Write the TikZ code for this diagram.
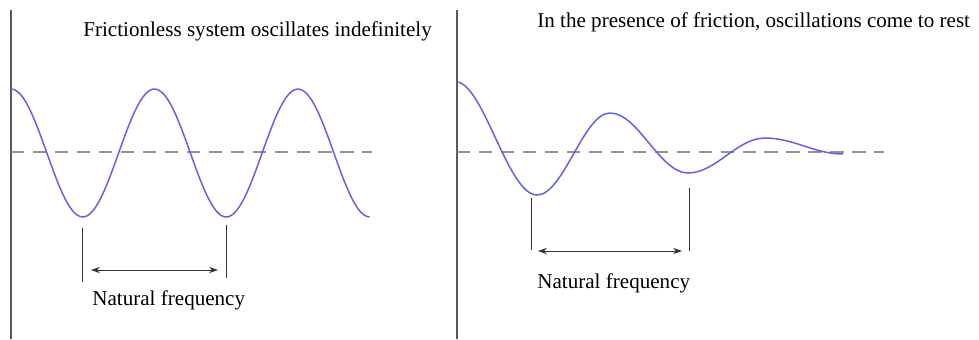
\documentclass[tikz,border=0pt]{standalone}
\usepackage{fontspec}
\setmainfont{Liberation Serif}
\usepackage{xcolor}
\usetikzlibrary{arrows.meta}
\definecolor{wave}{RGB}{98,98,228}
\definecolor{axisgray}{RGB}{90,90,90}

\begin{document}
\begin{tikzpicture}[x=0.02cm, y=-0.02cm,
  axisline/.style={axisgray, line width=0.9pt},
  restline/.style={gray!85, line width=0.6pt, dash pattern=on 7.5pt off 5pt},
  wavecurve/.style={wave, line width=0.85pt},
  bound/.style={black!80, line width=0.5pt},
  span/.style={{Stealth[length=5pt,width=3.5pt,inset=1.5pt]}-{Stealth[length=5pt,width=3.5pt,inset=1.5pt]}, black!80, line width=0.55pt},
  txt/.style={font=\fontsize{12}{14}\selectfont, inner sep=0pt, anchor=base west}]
\useasboundingbox (0,0) rectangle (979,339);

% Titles and labels
\node[txt] (lefttitle) at (83,36) {Frictionless system oscillates indefinitely};
\node[txt] (righttitle) at (537,27) {In the presence of friction, oscillations come to rest};
\node[txt] (leftcap) at (92,305) {Natural frequency};
\node[txt] (rightcap) at (537,288) {Natural frequency};

% Axes and rest positions
\draw[axisline] (11,10) -- (11,339);
\draw[axisline] (457,10) -- (457,339);
\draw[restline] (11,152) -- (372,152);
\draw[restline] (457,152) -- (884,152);

% Frictionless oscillation
\draw[wavecurve] plot[domain=0:2.5, samples=120] ({11+143.5*\x},{153-64*cos(360*\x)});

% Damped oscillation
\draw[wavecurve] (457,82) .. controls (484,85) and (508,195) .. (537,195)
  .. controls (563.5,195) and (583.5,113) .. (610,113)
  .. controls (638.3,113) and (659.7,173) .. (688,173)
  .. controls (716,173) and (737,138) .. (765,138)
  .. controls (793.3,138) and (814.7,154) .. (843,154);

% Period markers
\coordinate (l1top) at (82,228);  \coordinate (l1bot) at (82,282);
\coordinate (l2top) at (226,225); \coordinate (l2bot) at (226,278);
\coordinate (r1top) at (531,198); \coordinate (r1bot) at (531,250);
\coordinate (r2top) at (689,188); \coordinate (r2bot) at (689,251);
\coordinate (la) at (91,270);  \coordinate (lb) at (218,270);
\coordinate (ra) at (538,251); \coordinate (rb) at (682,251);

\draw[bound] (l1top) -- (l1bot);
\draw[bound] (l2top) -- (l2bot);
\draw[bound] (r1top) -- (r1bot);
\draw[bound] (r2top) -- (r2bot);
\draw[span] (la) -- (lb);
\draw[span] (ra) -- (rb);
\end{tikzpicture}
\end{document}
